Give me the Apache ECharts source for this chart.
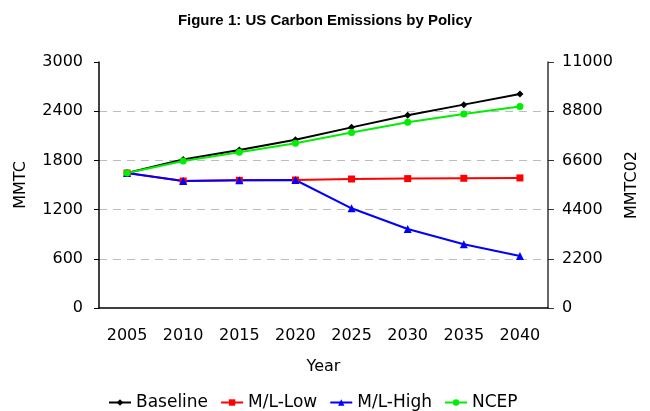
<!DOCTYPE html>
<html>
<head>
<meta charset="utf-8">
<script src="https://cdn.jsdelivr.net/npm/echarts@6/dist/echarts.min.js"></script>
<style>
  html, body { margin: 0; padding: 0; background: #fff; }
  #chart { width: 650px; height: 411px; }
</style>
</head>
<body>
<div id="chart"></div>
<script>
  var years = ['2005', '2010', '2015', '2020', '2025', '2030', '2035', '2040']
  var baseline = [1646, 1810, 1927, 2053, 2203, 2350, 2480, 2610]
  var mlLow = [1646, 1549, 1557, 1561, 1573, 1578, 1582, 1586]
  var mlHigh = [1646, 1549, 1557, 1561, 1216, 963, 777, 634]
  var ncep = [1646, 1793, 1899, 2009, 2139, 2265, 2366, 2456]

  var font = 'DejaVu Sans, Verdana, sans-serif'
  var titleFont = 'Liberation Sans, Arial, sans-serif'
  var chart = echarts.init(document.getElementById('chart'))

  function line(name, data, color, symbol, size) {
    return {
      name: name,
      type: 'line',
      data: data,
      symbol: symbol,
      symbolSize: size,
      lineStyle: { color: color, width: 2 },
      itemStyle: { color: color },
      animation: false
    }
  }

  // plain numbers, no thousands separator
  var plain = function(v) { return String(v) }

  chart.setOption({
    title: {
      text: 'Figure 1: US Carbon Emissions by Policy',
      left: 'center',
      top: 8,
      textStyle: { fontFamily: titleFont, fontSize: 15, fontWeight: 'bold', color: '#000' }
    },
    grid: { left: 99, right: 102, top: 62, bottom: 103 },
    legend: {
      top: 389,
      left: 103,
      itemWidth: 22,
      itemHeight: 8,
      itemGap: 12,
      textStyle: { fontFamily: font, fontSize: 17, color: '#000' },
      data: ['Baseline', 'M/L-Low', 'M/L-High', 'NCEP']
    },
    xAxis: {
      type: 'category',
      data: years,
      boundaryGap: true,
      name: 'Year',
      nameLocation: 'middle',
      nameGap: 51,
      nameTextStyle: { fontFamily: font, fontSize: 16, color: '#000' },
      axisLine: { lineStyle: { color: '#000', width: 1.5 } },
      axisTick: { interval: 0, length: 5, lineStyle: { color: '#000' } },
      axisLabel: { interval: 0, margin: 20, fontFamily: font, fontSize: 16, color: '#000' }
    },
    yAxis: [
      {
        type: 'value',
        min: 0,
        max: 3000,
        interval: 600,
        name: 'MMTC',
        nameLocation: 'middle',
        nameGap: 70,
        nameTextStyle: { fontFamily: font, fontSize: 16, color: '#000' },
        axisLine: { show: true, lineStyle: { color: '#000', width: 1.5 } },
        axisTick: { show: true, length: 5, lineStyle: { color: '#000' } },
        axisLabel: { margin: 16, fontFamily: font, fontSize: 16, color: '#000', formatter: plain },
        splitLine: {
          show: true,
          showMinLine: false,
          showMaxLine: false,
          lineStyle: { color: '#bdbdbd', type: [8, 6], width: 1 }
        }
      },
      {
        type: 'value',
        min: 0,
        max: 11000,
        interval: 2200,
        position: 'right',
        name: 'MMTC02',
        nameLocation: 'middle',
        nameGap: 76,
        nameTextStyle: { fontFamily: font, fontSize: 16, color: '#000' },
        axisLine: { show: true, lineStyle: { color: '#333', width: 1.5 } },
        axisTick: { show: true, length: 6, lineStyle: { color: '#333' } },
        axisLabel: { margin: 14, fontFamily: font, fontSize: 16, color: '#000', formatter: plain },
        splitLine: { show: false }
      }
    ],
    series: [
      line('Baseline', baseline, '#000000', 'diamond', 7),
      line('M/L-Low', mlLow, '#ff0000', 'rect', 7),
      line('M/L-High', mlHigh, '#0000ff', 'triangle', 8),
      line('NCEP', ncep, '#00ee00', 'circle', 7)
    ]
  })
</script>
</body>
</html>
